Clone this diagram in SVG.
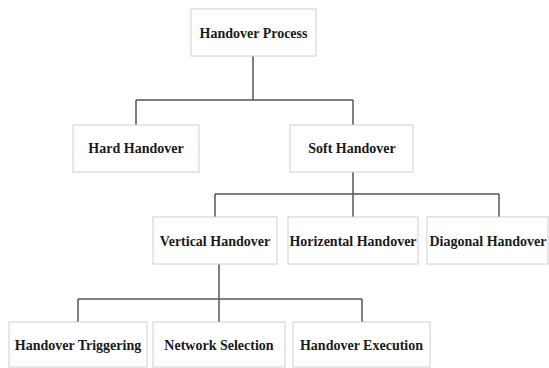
<svg xmlns="http://www.w3.org/2000/svg" width="549" height="368" viewBox="0 0 549 368">
<style>
.box{fill:#fff;stroke:#d0d0d0;stroke-width:1}
.t{font-family:"Liberation Serif","Times New Roman",serif;font-weight:bold;font-size:14px;fill:#1a1a1a;text-anchor:middle;dominant-baseline:central}
.c{fill:none;stroke:#555;stroke-width:1.5}
</style>
<rect width="549" height="368" fill="#fff"/>
<g id="connectors">
<path class="c" d="M253,56 V100 M136,100 H353 M136,100 V125 M353,100 V125"/>
<path class="c" d="M353,172 V194 M215,194 H499 M215,194 V217 M353,194 V217 M499,194 V217"/>
<path class="c" d="M219,264 V299 M78,299 H362 M78,299 V322 M219,299 V322 M362,299 V322"/>
</g>
<g id="n-process"><rect class="box" x="191" y="9" width="125" height="47"/><text class="t" x="253.5" y="33">Handover Process</text></g>
<g id="n-hard"><rect class="box" x="73" y="125" width="126" height="47"/><text class="t" x="136" y="148">Hard Handover</text></g>
<g id="n-soft"><rect class="box" x="290" y="125" width="123" height="47"/><text class="t" x="352" y="148">Soft Handover</text></g>
<g id="n-vertical"><rect class="box" x="153" y="217" width="124" height="47"/><text class="t" x="215" y="241">Vertical Handover</text></g>
<g id="n-horizontal"><rect class="box" x="288" y="217" width="130" height="47"/><text class="t" x="353" y="241">Horizental Handover</text></g>
<g id="n-diagonal"><rect class="box" x="427" y="217" width="121" height="47"/><text class="t" x="488" y="241">Diagonal Handover</text></g>
<g id="n-triggering"><rect class="box" x="9" y="322" width="138" height="45"/><text class="t" x="78" y="345">Handover Triggering</text></g>
<g id="n-selection"><rect class="box" x="153" y="322" width="132" height="45"/><text class="t" x="219" y="345">Network Selection</text></g>
<g id="n-execution"><rect class="box" x="293" y="322" width="137" height="45"/><text class="t" x="361.5" y="345">Handover Execution</text></g>
</svg>
